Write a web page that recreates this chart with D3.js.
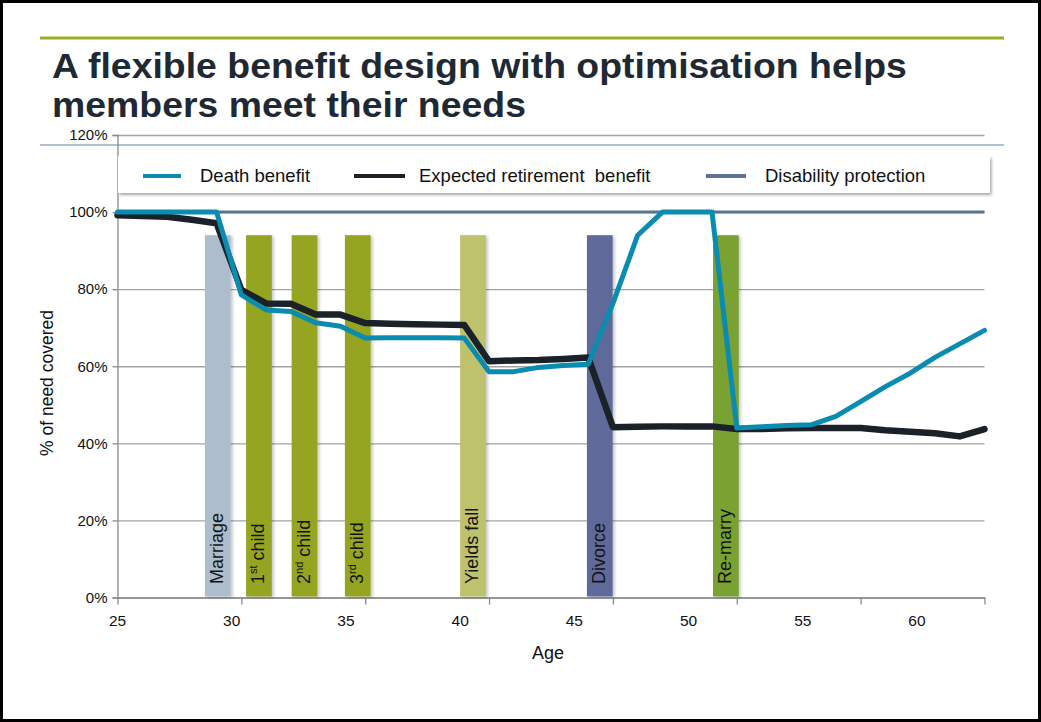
<!DOCTYPE html>
<html>
<head>
<meta charset="utf-8">
<script src="https://cdn.jsdelivr.net/npm/d3@7"></script>
<style>
  body { margin: 0; background: #fff; }
  svg { display: block; font-family: "Liberation Sans", Arial, Helvetica, sans-serif; }
</style>
</head>
<body>
<svg id="chart" width="1041" height="722"></svg>
<script>
// ---- data -------------------------------------------------------------
const ages = [25, 26, 27, 28, 29, 30, 31, 32, 33, 34, 35, 36, 37, 38, 39, 40, 41, 42,
              43, 44, 45, 46, 47, 48, 49, 50, 51, 52, 53, 54, 55, 56, 57, 58, 59, 60];

const deathBenefit = [100, 100, 100, 100, 100, 78.5, 74.6, 74.2, 71.3, 70.4, 67.3, 67.4,
                      67.4, 67.4, 67.3, 58.6, 58.6, 59.7, 60.2, 60.5, 76.3, 94.0, 100, 100,
                      100, 44.0, 44.3, 44.6, 44.8, 47.0, 50.8, 54.7, 58.2, 62.3, 65.8, 69.3];

const retirementBenefit = [99.2, 99.0, 98.8, 98.0, 97.1, 79.8, 76.3, 76.2, 73.4, 73.4, 71.2, 71.0,
                           70.9, 70.8, 70.7, 61.3, 61.5, 61.6, 61.9, 62.3, 44.2, 44.3, 44.4, 44.4,
                           44.4, 43.7, 43.7, 43.9, 44.0, 44.0, 44.0, 43.4, 43.0, 42.6, 41.8, 43.7];

const disabilityAges = [25, 60];
const disabilityProtection = [100, 100];

// life events: label, start / end age of the band, height of the band (%)
const eventNames = ["Marriage", "1st child", "2nd child", "3rd child", "Yields fall", "Divorce", "Re-marry"];
const eventStart = [28.53, 30.19, 32.03, 34.18, 38.83, 43.95, 49.04];
const eventEnd   = [29.57, 31.23, 33.07, 35.22, 39.87, 44.99, 50.08];
const eventHeight = [94, 94, 94, 94, 94, 94, 94];
const eventColors = ["#adbdcd", "#95a521", "#95a521", "#95a521", "#bec26c", "#5f6a9b", "#79a233"];

const yTicks = [0, 20, 40, 60, 80, 100, 120];
const ageLabels = [25, 30, 35, 40, 45, 50, 55, 60];

const seriesNames = ["Death benefit", "Expected retirement  benefit", "Disability protection"];
const seriesColors = ["#0a8cb0", "#1a2129", "#5a7390"];

// ---- layout -----------------------------------------------------------
const svg = d3.select("#chart");
const W = 1041, H = 722;
const plot = { left: 117.5, right: 984.5, top: 135, bottom: 597.5 };

const defs = svg.append("defs");
const barShadow = defs.append("filter").attr("id", "barShadow")
  .attr("x", "-20%").attr("y", "-5%").attr("width", "160%").attr("height", "110%");
barShadow.append("feDropShadow").attr("dx", 2).attr("dy", 1).attr("stdDeviation", 1.5)
  .attr("flood-color", "#000").attr("flood-opacity", 0.22);
const boxShadow = defs.append("filter").attr("id", "boxShadow")
  .attr("x", "-5%").attr("y", "-30%").attr("width", "110%").attr("height", "170%");
boxShadow.append("feDropShadow").attr("dx", 1.5).attr("dy", 2).attr("stdDeviation", 1.6)
  .attr("flood-color", "#000").attr("flood-opacity", 0.35);

svg.append("rect").attr("width", W).attr("height", H).attr("fill", "#fff");

// scales
const x = d3.scaleLinear().domain([25, 60]).range([plot.left, plot.right]);
const xLabel = d3.scaleLinear().domain([25, 63]).range([117, 985]);
const y = d3.scaleLinear().domain([0, 120]).range([plot.bottom, plot.top]);

// slide decoration: top rule
svg.append("line").attr("x1", 40).attr("x2", 1004).attr("y1", 38).attr("y2", 38)
  .attr("stroke", "#9aab24").attr("stroke-width", 3);

// title: tall bold face, squeezed horizontally to the slide's text width
const title = svg.append("text").attr("x", 0).attr("fill", "#1e2933")
  .attr("font-weight", "bold").attr("font-size", 36);
title.append("tspan").attr("x", 0).attr("y", 78).text("A flexible benefit design with optimisation helps");
title.append("tspan").attr("x", 0).attr("y", 117).text("members meet their needs");
const firstLine = title.select("tspan").node().getComputedTextLength();
title.attr("transform", `translate(52,0) scale(${855 / firstLine},1)`);

// gridlines
svg.append("g")
  .attr("transform", `translate(${plot.left},0)`)
  .call(d3.axisRight(y).tickValues(yTicks).tickSize(plot.right - plot.left).tickFormat(""))
  .call(g => g.select(".domain").remove())
  .call(g => g.selectAll("line").attr("stroke", "#a3a3a3").attr("stroke-width", 1.3));

// slide decoration: blue-grey rule under the title
svg.append("line").attr("x1", 40).attr("x2", 1004).attr("y1", 145).attr("y2", 145)
  .attr("stroke", "#b0c0d2").attr("stroke-width", 2);

// y axis
svg.append("g")
  .attr("transform", `translate(${plot.left},0)`)
  .call(d3.axisLeft(y).tickValues(yTicks).tickSize(5).tickPadding(5).tickFormat(d => d + "%"))
  .call(g => g.select(".domain").attr("stroke", "#8a8a8a").attr("stroke-width", 1.3))
  .call(g => g.selectAll("line").attr("stroke", "#8a8a8a").attr("stroke-width", 1.3))
  .call(g => g.selectAll("text").attr("font-size", 15).attr("fill", "#111")
    .attr("font-family", "Liberation Sans, Arial, sans-serif"));

// x axis: tick marks
svg.append("g")
  .attr("transform", `translate(0,${plot.bottom})`)
  .call(d3.axisBottom(x).tickValues(ageLabels).tickSize(7).tickSizeOuter(0).tickFormat(""))
  .call(g => g.select(".domain").attr("stroke", "#8a8a8a").attr("stroke-width", 1.3))
  .call(g => g.selectAll("line").attr("stroke", "#8a8a8a").attr("stroke-width", 1.3));

// x axis: age labels
svg.append("g")
  .attr("transform", `translate(0,${plot.bottom})`)
  .call(d3.axisBottom(xLabel).tickValues(ageLabels).tickSize(0).tickPadding(17))
  .call(g => g.select(".domain").remove())
  .call(g => g.selectAll("text").attr("font-size", 15.5).attr("fill", "#111")
    .attr("font-family", "Liberation Sans, Arial, sans-serif"));

// axis titles
svg.append("text").attr("x", 548).attr("y", 659).attr("text-anchor", "middle")
  .attr("font-size", 18).attr("fill", "#111").text("Age");
svg.append("text").attr("transform", "translate(53,383) rotate(-90)").attr("text-anchor", "middle")
  .attr("font-size", 17.5).attr("fill", "#111").text("% of need covered");

// event bands
const events = eventNames.map((name, i) => ({
  name, start: eventStart[i], end: eventEnd[i], h: eventHeight[i], color: eventColors[i]
}));
const bands = svg.append("g");
bands.selectAll("rect").data(events).join("rect")
  .attr("x", d => x(d.start))
  .attr("width", d => x(d.end) - x(d.start))
  .attr("y", d => y(d.h))
  .attr("height", d => y(0) - y(d.h) - 1)
  .attr("fill", d => d.color)
  .attr("filter", "url(#barShadow)");

// band labels, with ordinal suffixes raised
const ordinal = /^(\d)(st|nd|rd)(.*)$/;
bands.selectAll("text").data(events).join("text")
  .attr("transform", d => `translate(${x((d.start + d.end) / 2) + 5},584) rotate(-90)`)
  .attr("font-size", 18).attr("fill", "#141414")
  .each(function (d) {
    const t = d3.select(this);
    const m = d.name.match(ordinal);
    if (m) {
      t.append("tspan").text(m[1]);
      t.append("tspan").attr("font-size", 11).attr("dy", -7).text(m[2]);
      t.append("tspan").attr("dy", 7).text(m[3]);
    } else {
      t.text(d.name);
    }
  });

// lines
const line = d3.line().x(d => x(d[0])).y(d => y(d[1]));
const lineG = svg.append("g").attr("fill", "none")
  .attr("stroke-linejoin", "round").attr("stroke-linecap", "round");
lineG.append("path")
  .datum(disabilityAges.map((a, i) => [a, disabilityProtection[i]]))
  .attr("d", line).attr("stroke", seriesColors[2]).attr("stroke-width", 3).attr("stroke-linecap", "butt");
lineG.append("path")
  .datum(ages.map((a, i) => [a, retirementBenefit[i]]))
  .attr("d", line).attr("stroke", seriesColors[1]).attr("stroke-width", 6.5);
lineG.append("path")
  .datum(ages.map((a, i) => [a, deathBenefit[i]]))
  .attr("d", line).attr("stroke", seriesColors[0]).attr("stroke-width", 5);

// legend
const legend = svg.append("g");
legend.append("rect").attr("x", 118).attr("y", 156).attr("width", 872).attr("height", 37)
  .attr("fill", "#fff").attr("filter", "url(#boxShadow)");
const legendX = [[143, 181, 200], [354, 405, 419], [706, 746, 765]];
seriesNames.forEach((name, i) => {
  legend.append("line").attr("x1", legendX[i][0]).attr("x2", legendX[i][1])
    .attr("y1", 176).attr("y2", 176)
    .attr("stroke", seriesColors[i]).attr("stroke-width", 4);
  legend.append("text").attr("x", legendX[i][2]).attr("y", 182)
    .attr("font-size", 18.5).attr("fill", "#111").attr("xml:space", "preserve").text(name);
});

// slide frame
svg.append("rect").attr("x", 1.5).attr("y", 1.5).attr("width", W - 3).attr("height", H - 3)
  .attr("fill", "none").attr("stroke", "#000").attr("stroke-width", 3);
</script>
</body>
</html>
